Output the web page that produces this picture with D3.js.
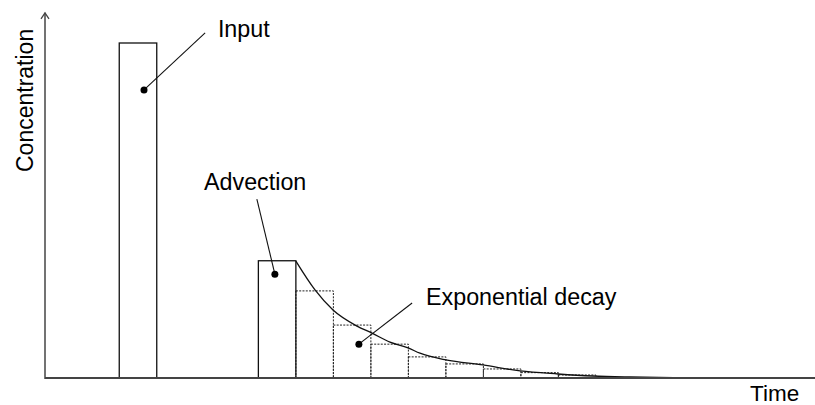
<!DOCTYPE html>
<html>
<head>
<meta charset="utf-8">
<script src="https://cdn.jsdelivr.net/npm/d3@7"></script>
<style>
  html, body { margin: 0; padding: 0; background: #fff; }
  svg { display: block; }
  text { font-family: "Liberation Sans", Arial, sans-serif; fill: #000; }
</style>
</head>
<body>
<svg id="chart" width="815" height="405"></svg>
<script>
// ---- data ----
const barNames = ["Input", "Advection"];
const barStarts = [1.98, 5.69];          // time at left edge of each bar
const barValues = [100, 35];             // concentration
const barWidth = 1;                      // time units

const stepStarts = [6.69, 7.69, 8.69, 9.69, 10.69, 11.69, 12.69, 13.69];
const stepValues = [26, 15.8, 10.1, 6.3, 4.2, 2.7, 1.6, 0.9];

const decayTimes  = [6.69, 7.2, 7.68, 8.32, 8.72, 9.2, 9.68, 10.0, 10.69, 11.68, 12.67, 13.68, 14.61, 15.6, 16.9, 18.0];
const decayValues = [34.9, 26.3, 20.3, 15.5, 13.4, 10.7, 9.0, 7.4, 5.4, 3.9, 2.1, 1.2, 0.6, 0.3, 0.1, 0];

const labelTexts  = ["Input", "Advection", "Exponential decay"];
const labelT      = [4.61, 4.24, 10.16];
const labelC      = [101.8, 56.1, 21.8];
const pointerDotT = [2.64, 6.13, 8.37];
const pointerDotC = [86, 31, 10.1];
const pointerEndT = [4.27, 5.65, 9.79];
const pointerEndC = [103, 53.4, 22.4];

const xTitle = "Time";
const yTitle = "Concentration";

// ---- scales ----
const svg = d3.select("#chart");
const x = d3.scaleLinear().domain([0, 20.5]).range([45, 813.75]);
const y = d3.scaleLinear().domain([0, 100]).range([378, 43]);
const yTop = 109;

// ---- dotted step bars ----
svg.append("g").selectAll("rect")
  .data(stepStarts.map((s, i) => ({ s, v: stepValues[i] })))
  .join("rect")
  .attr("x", d => x(d.s))
  .attr("y", d => y(d.v))
  .attr("width", d => x(d.s + barWidth) - x(d.s))
  .attr("height", d => y(0) - y(d.v))
  .attr("fill", "none")
  .attr("stroke", "#222")
  .attr("stroke-width", 1)
  .attr("stroke-dasharray", "2,1.3");

// ---- solid bars ----
svg.append("g").selectAll("rect")
  .data(barStarts.map((s, i) => ({ s, v: barValues[i], n: barNames[i] })))
  .join("rect")
  .attr("x", d => x(d.s))
  .attr("y", d => y(d.v))
  .attr("width", d => x(d.s + barWidth) - x(d.s))
  .attr("height", d => y(0) - y(d.v))
  .attr("fill", "none")
  .attr("stroke", "#111")
  .attr("stroke-width", 1.3);

// ---- decay curve ----
const line = d3.line()
  .x(d => x(d[0]))
  .y(d => y(d[1]))
  .curve(d3.curveMonotoneX);
svg.append("path")
  .datum(decayTimes.map((t, i) => [t, decayValues[i]]))
  .attr("d", line)
  .attr("fill", "none")
  .attr("stroke", "#111")
  .attr("stroke-width", 1.3);

// ---- axes ----
const axisColor = "#444";
svg.append("line")
  .attr("x1", x(0)).attr("x2", x(20.5) + 2)
  .attr("y1", y(0)).attr("y2", y(0))
  .attr("stroke", axisColor).attr("stroke-width", 2);
svg.append("line")
  .attr("x1", x(0)).attr("x2", x(0))
  .attr("y1", y(0) + 1).attr("y2", y(yTop))
  .attr("stroke", axisColor).attr("stroke-width", 1.5);
svg.append("path")
  .attr("d", `M${x(0) - 4},${y(yTop) + 6} L${x(0)},${y(yTop)} L${x(0) + 4},${y(yTop) + 6}`)
  .attr("fill", "none").attr("stroke", axisColor).attr("stroke-width", 1.3);

// ---- axis titles ----
svg.append("text")
  .attr("x", 750).attr("y", 401)
  .attr("font-size", 22.5)
  .text(xTitle);
svg.append("text")
  .attr("transform", "translate(33,172) rotate(-90)")
  .attr("font-size", 23)
  .text(yTitle);

// ---- annotations ----
const ann = svg.append("g");
labelTexts.forEach((txt, i) => {
  ann.append("line")
    .attr("x1", x(pointerDotT[i])).attr("y1", y(pointerDotC[i]))
    .attr("x2", x(pointerEndT[i])).attr("y2", y(pointerEndC[i]))
    .attr("stroke", "#111").attr("stroke-width", 1.1);
  ann.append("circle")
    .attr("cx", x(pointerDotT[i])).attr("cy", y(pointerDotC[i]))
    .attr("r", 3.5).attr("fill", "#000");
  ann.append("text")
    .attr("x", x(labelT[i])).attr("y", y(labelC[i]))
    .attr("font-size", 23.3)
    .text(txt);
});
</script>
</body>
</html>
